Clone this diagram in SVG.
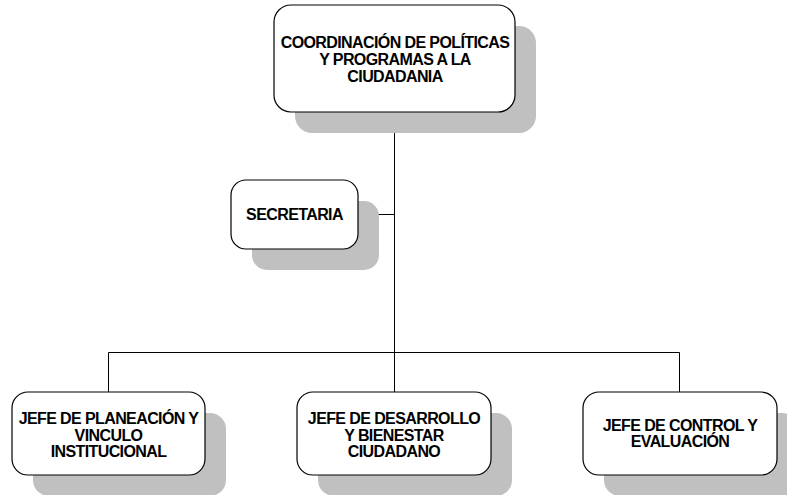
<svg xmlns="http://www.w3.org/2000/svg" width="787" height="495" viewBox="0 0 787 495">
<style>
.shadow{fill:#c0c0c0;stroke:none}
.box{fill:#ffffff;stroke:#000000;stroke-width:1.2}
.conn{stroke:#000000;stroke-width:1;fill:none}
text{font-family:"Liberation Sans",Arial,sans-serif;font-weight:bold;font-size:16px;letter-spacing:-0.6px;fill:#000000;text-anchor:middle}
</style>
<rect x="0" y="0" width="787" height="495" fill="#ffffff"/>
<g id="connectors">
<path class="conn" d="M394.5,112 V392"/>
<path class="conn" d="M358,214.5 H394.5"/>
<path class="conn" d="M108.5,352.5 H679.5"/>
<path class="conn" d="M108.5,352.5 V392"/>
<path class="conn" d="M679.5,352.5 V392"/>
</g>
<g id="node-coordinacion">
<rect class="shadow" x="295" y="26" width="241" height="107" rx="17"/>
<rect class="box" x="274" y="5" width="241" height="107" rx="17"/>
<text x="395" y="48">COORDINACIÓN DE POLÍTICAS</text>
<text x="395" y="65">Y PROGRAMAS A LA</text>
<text x="395" y="82">CIUDADANIA</text>
</g>
<g id="node-secretaria">
<rect class="shadow" x="252" y="201" width="127" height="69" rx="15"/>
<rect class="box" x="231" y="180" width="127" height="69" rx="15"/>
<text x="294.5" y="219.5">SECRETARIA</text>
</g>
<g id="node-planeacion">
<rect class="shadow" x="33" y="413" width="193" height="83" rx="16"/>
<rect class="box" x="12" y="392" width="193" height="83" rx="16"/>
<text x="108.5" y="424">JEFE DE PLANEACIÓN Y</text>
<text x="108.5" y="440.5">VINCULO</text>
<text x="108.5" y="457">INSTITUCIONAL</text>
</g>
<g id="node-desarrollo">
<rect class="shadow" x="318" y="413" width="194" height="83" rx="16"/>
<rect class="box" x="297" y="392" width="194" height="83" rx="16"/>
<text x="394" y="424">JEFE DE DESARROLLO</text>
<text x="394" y="440.5">Y BIENESTAR</text>
<text x="394" y="457">CIUDADANO</text>
</g>
<g id="node-control">
<rect class="shadow" x="604" y="413" width="194" height="83" rx="16"/>
<rect class="box" x="583" y="392" width="194" height="83" rx="16"/>
<text x="680" y="430.5">JEFE DE CONTROL Y</text>
<text x="680" y="447">EVALUACIÓN</text>
</g>
</svg>
